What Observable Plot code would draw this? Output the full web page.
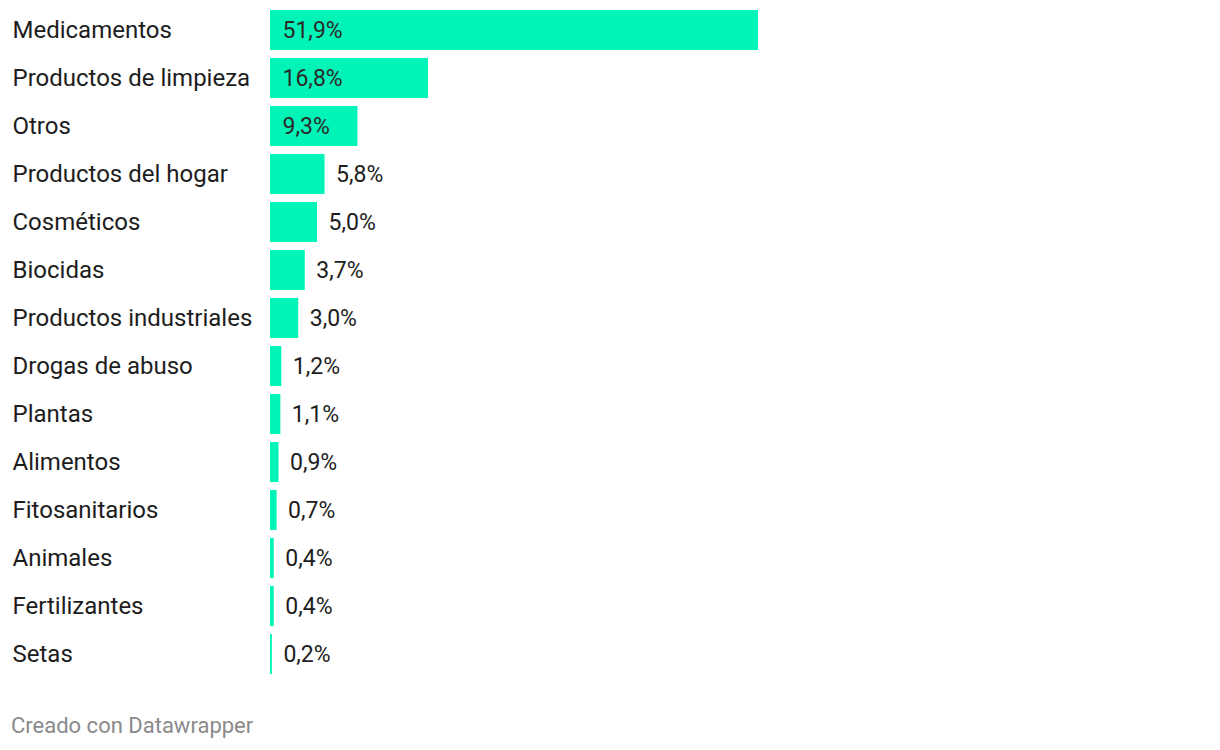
<!DOCTYPE html>
<html>
<head>
<meta charset="utf-8">
<script src="https://cdn.jsdelivr.net/npm/d3@7"></script>
<script src="https://cdn.jsdelivr.net/npm/@observablehq/plot@0.6"></script>
<style>
  html, body { margin: 0; padding: 0; background: #fff; }
  body { font-family: Roboto, "Noto Sans", sans-serif; width: 1220px; }
  #chart svg { display: block; }
  .caption { font-family: Roboto, sans-serif; font-size: 22px; line-height: 26px; color: #8a8a8a; margin: 23px 0 0 11px; }
</style>
</head>
<body>
<div id="chart"></div>
<div class="caption">Creado con Datawrapper</div>
<script>
const categories = ["Medicamentos", "Productos de limpieza", "Otros", "Productos del hogar", "Cosméticos", "Biocidas", "Productos industriales", "Drogas de abuso", "Plantas", "Alimentos", "Fitosanitarios", "Animales", "Fertilizantes", "Setas"];
const values = [51.9, 16.8, 9.3, 5.8, 5.0, 3.7, 3.0, 1.2, 1.1, 0.9, 0.7, 0.4, 0.4, 0.2];
const insideThreshold = 9;

const data = categories.map((c, i) => ({
  cat: c,
  v: values[i],
  label: values[i].toFixed(1).replace(".", ",") + "%"
}));
const inside = data.filter(d => d.v >= insideThreshold);
const outside = data.filter(d => d.v < insideThreshold);

const chart = Plot.plot({
  width: 1220,
  height: 690,
  marginLeft: 270,
  marginRight: 462,
  marginTop: 2,
  marginBottom: 8,
  style: { fontFamily: "Roboto, sans-serif", fontSize: "23px", color: "#1d1d1d", background: "#fff" },
  x: { domain: [0, 51.9], axis: null },
  y: { domain: categories, padding: 1/6, round: false, axis: null },
  marks: [
    Plot.barX(data, { x: "v", y: "cat", fill: "#01f4b7" }),
    Plot.text(data, { y: "cat", text: "cat", frameAnchor: "left", textAnchor: "start", dx: -258, fill: "#1d1d1d", fontSize: 24 }),
    Plot.text(inside, { x: 0, y: "cat", text: "label", textAnchor: "start", dx: 12, fill: "#2a2a2a", fontSize: 23 }),
    Plot.text(outside, { x: "v", y: "cat", text: "label", textAnchor: "start", dx: 11, fill: "#1d1d1d", fontSize: 23 })
  ]
});
document.getElementById("chart").appendChild(chart);
</script>
</body>
</html>
